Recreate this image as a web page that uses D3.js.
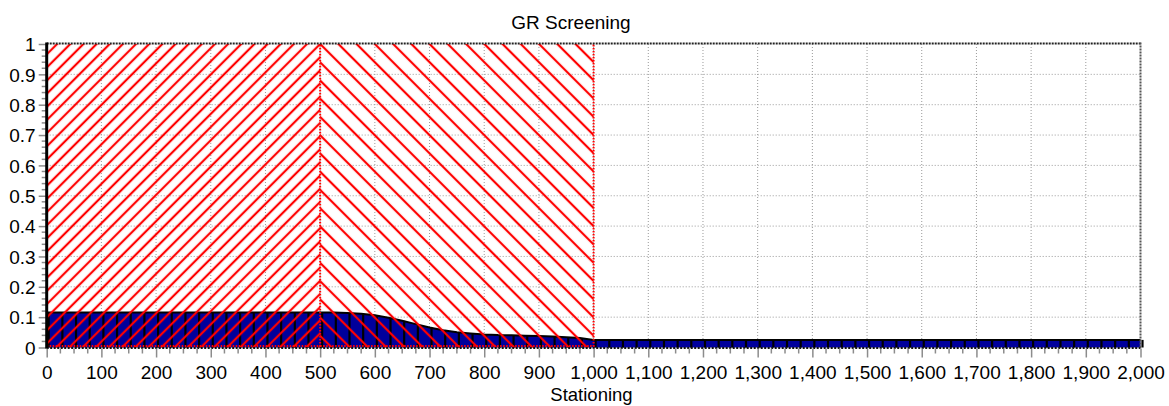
<!DOCTYPE html>
<html>
<head>
<meta charset="utf-8">
<script src="https://cdn.jsdelivr.net/npm/d3@7/dist/d3.min.js"></script>
<style>
  html, body { margin: 0; padding: 0; background: #fff; }
  svg { display: block; font-family: "Liberation Sans", Arial, Helvetica, sans-serif; }
</style>
</head>
<body>
<svg id="chart" width="1169" height="406"></svg>
<script>
// ############################################################################
// GR Screening                                                         Chart
// ############################################################################

// ============================================================================
// Data
// ============================================================================

// stations of the GR profile (m)
const stations = [
     0,   25,   50,   75,  100,  125,  150,  175,  200,  225,
   250,  275,  300,  325,  350,  375,  400,  425,  450,  475,
   500,  525,  550,  575,  600,  625,  650,  675,  700,  725,
   750,  775,  800,  825,  850,  875,  900,  925,  950,  975,
  1000, 1025, 1050, 1075, 1100, 1125, 1150, 1175, 1200, 1225,
  1250, 1275, 1300, 1325, 1350, 1375, 1400, 1425, 1450, 1475,
  1500, 1525, 1550, 1575, 1600, 1625, 1650, 1675, 1700, 1725,
  1750, 1775, 1800, 1825, 1850, 1875, 1900, 1925, 1950, 1975,
  2000
]

// screening value at each station
const grValues = [
  0.115, 0.115, 0.115, 0.115, 0.115, 0.115, 0.115, 0.115, 0.115, 0.115,
  0.115, 0.115, 0.115, 0.115, 0.115, 0.115, 0.115, 0.115, 0.115, 0.115,
  0.115, 0.115, 0.114, 0.111, 0.106, 0.098, 0.088, 0.077, 0.066, 0.057,
  0.050, 0.046, 0.043, 0.041, 0.040, 0.039, 0.038, 0.036, 0.034, 0.031,
  0.025, 0.025, 0.025, 0.025, 0.025, 0.025, 0.025, 0.025, 0.025, 0.025,
  0.025, 0.025, 0.025, 0.025, 0.025, 0.025, 0.025, 0.025, 0.025, 0.025,
  0.025, 0.025, 0.025, 0.025, 0.025, 0.025, 0.025, 0.025, 0.025, 0.025,
  0.025, 0.025, 0.025, 0.025, 0.025, 0.025, 0.025, 0.025, 0.025, 0.025,
  0.025
]

// hatched screening zones
const zoneStarts = [0, 500]
const zoneEnds   = [500, 1000]
const zoneTops   = [1, 1]
const zoneHatch  = ["fwd", "back"]

// tick labels
const xTicks = [0, 100, 200, 300, 400, 500, 600, 700, 800, 900, 1000,
                1100, 1200, 1300, 1400, 1500, 1600, 1700, 1800, 1900, 2000]
const yTicks = [0, 0.1, 0.2, 0.3, 0.4, 0.5, 0.6, 0.7, 0.8, 0.9, 1]


// ============================================================================
// Layout
// ============================================================================

const svg = d3.select("#chart")

const plot = { left: 46.7, right: 1140.5, top: 44, bottom: 347.5 }

const x = d3.scaleLinear().domain([0, 2000]).range([plot.left, plot.right])
const y = d3.scaleLinear().domain([0, 1]).range([plot.bottom, plot.top])

const red  = "#ff0000"
const navy = "#00009c"
const grey = "#8c8c8c"


// ============================================================================
// Hatch patterns
// ============================================================================

const defs = svg.append("defs")
const hatchAngle   = { fwd: 45, back: -45 }
const hatchSpacing = { fwd: 9.3, back: 12.9 }

zoneHatch.forEach((h, i) => {
  let w = hatchSpacing[h]
  let p = defs.append("pattern")
    .attr("id", "hatch-" + i)
    .attr("patternUnits", "userSpaceOnUse")
    .attr("width", w)
    .attr("height", 10)
    .attr("patternTransform",
      "translate(" + x(500) + "," + y(1) + ") rotate(" + hatchAngle[h] + ")")

  // line on both tile edges so the stroke is not clipped in half
  p.selectAll("line")
    .data([0, w])
    .join("line")
      .attr("x1", d => d).attr("y1", -1)
      .attr("x2", d => d).attr("y2", 11)
      .attr("stroke", red)
      .attr("stroke-width", 2.2)
})


// ============================================================================
// Grid
// ============================================================================

const grid = svg.append("g").attr("class", "grid")
  .attr("stroke", "#9a9a9a")
  .attr("stroke-width", 1)
  .attr("stroke-dasharray", "1,2")

grid.selectAll(".gx")
  .data(xTicks.filter(d => d > 0 && d < 2000))
  .join("line")
    .attr("x1", d => x(d)).attr("x2", d => x(d))
    .attr("y1", plot.top).attr("y2", plot.bottom)

grid.selectAll(".gy")
  .data(yTicks.filter(d => d > 0 && d < 1))
  .join("line")
    .attr("x1", plot.left).attr("x2", plot.right)
    .attr("y1", d => y(d)).attr("y2", d => y(d))


// ============================================================================
// GR profile (filled bars with black outlines)
// ============================================================================

const profile = stations.map((s, i) => ({ s: s, v: grValues[i] }))

svg.append("path")
  .datum(profile)
  .attr("fill", navy)
  .attr("d", d3.area()
    .x(d => x(d.s))
    .y0(y(0))
    .y1(d => y(d.v)))

svg.append("g")
  .attr("stroke", "#000")
  .attr("stroke-width", 2.2)
  .selectAll("line")
  .data(profile)
  .join("line")
    .attr("x1", d => x(d.s) + 2).attr("x2", d => x(d.s) + 2)
    .attr("y1", y(0)).attr("y2", d => y(d.v))

svg.append("path")
  .datum(profile)
  .attr("fill", "none")
  .attr("stroke", "#000")
  .attr("stroke-width", 2)
  .attr("d", d3.line()
    .x(d => x(d.s))
    .y(d => y(d.v)))


// ============================================================================
// Hatched zones
// ============================================================================

const zones = zoneStarts.map((s, i) => ({ s: s, e: zoneEnds[i], t: zoneTops[i], i: i }))

svg.append("g").selectAll("rect")
  .data(zones)
  .join("rect")
    .attr("x", d => x(d.s))
    .attr("y", d => y(d.t))
    .attr("width", d => x(d.e) - x(d.s))
    .attr("height", d => y(0) - y(d.t))
    .attr("fill", d => "url(#hatch-" + d.i + ")")

// dotted zone borders
const zoneBorders = svg.append("g")
  .attr("stroke", red)
  .attr("stroke-width", 2)
  .attr("stroke-dasharray", "1.5,1.5")
  .attr("fill", "none")

zoneBorders.selectAll(".zb")
  .data(zones)
  .join("path")
    .attr("d", d => "M" + x(d.s) + "," + (y(0) - 1.5)
      + "H" + x(d.e)
      + "V" + y(d.t))


// ============================================================================
// Frame
// ============================================================================

// top border
svg.append("line")
  .attr("x1", plot.left).attr("x2", plot.right)
  .attr("y1", plot.top - 0.5).attr("y2", plot.top - 0.5)
  .attr("stroke", "#222").attr("stroke-width", 2)
  .attr("stroke-dasharray", "2,1")

// right border
svg.append("line")
  .attr("x1", plot.right).attr("x2", plot.right)
  .attr("y1", plot.top - 1.5).attr("y2", plot.bottom)
  .attr("stroke", "#555").attr("stroke-width", 2)
  .attr("stroke-dasharray", "2,1")

// bottom axis line
svg.append("line")
  .attr("x1", plot.left).attr("x2", plot.right)
  .attr("y1", plot.bottom + 0.5).attr("y2", plot.bottom + 0.5)
  .attr("stroke", "#111").attr("stroke-width", 2)
  .attr("stroke-dasharray", "2,1.5")


// ============================================================================
// Axes
// ============================================================================

const xMinor = stations.filter(d => d % 100 !== 0)
const yMinor = d3.range(1, 50).map(d => d / 50).filter(d => Math.round(d * 50) % 5 !== 0)

const xAxis = svg.append("g")
  .attr("transform", "translate(0," + (plot.bottom + 1) + ")")
  .call(d3.axisBottom(x)
    .tickValues(xTicks)
    .tickFormat(d3.format(","))
    .tickSize(9)
    .tickPadding(8))

xAxis.append("g").selectAll("line")
  .data(xMinor)
  .join("line")
    .attr("x1", d => x(d)).attr("x2", d => x(d))
    .attr("y1", 0).attr("y2", 5)
    .attr("stroke", grey).attr("stroke-width", 1.5)

const yAxis = svg.append("g")
  .attr("transform", "translate(" + plot.left + ",0)")
  .call(d3.axisLeft(y)
    .tickValues(yTicks)
    .tickFormat(d3.format("~g"))
    .tickSize(8)
    .tickPadding(3))

yAxis.append("g").selectAll("line")
  .data(yMinor)
  .join("line")
    .attr("x1", -5).attr("x2", 0)
    .attr("y1", d => y(d)).attr("y2", d => y(d))
    .attr("stroke", grey).attr("stroke-width", 1.5)

svg.selectAll(".domain").remove()
svg.selectAll(".tick line").attr("stroke", grey).attr("stroke-width", 1.5)
svg.selectAll(".tick text")
  .attr("fill", "#000")
  .style("font-size", "19px")
  .style("font-family", "'Liberation Sans', Arial, sans-serif")

yAxis.selectAll(".tick text").attr("dy", "0.36em")

// thick left axis
svg.append("line")
  .attr("x1", plot.left).attr("x2", plot.left)
  .attr("y1", plot.top - 1.5).attr("y2", plot.bottom + 1)
  .attr("stroke", "#000").attr("stroke-width", 3)


// ============================================================================
// Titles
// ============================================================================

svg.append("text")
  .attr("x", 571)
  .attr("y", 29)
  .attr("text-anchor", "middle")
  .style("font-size", "19px")
  .text("GR Screening")

svg.append("text")
  .attr("x", 591.5)
  .attr("y", 401)
  .attr("text-anchor", "middle")
  .style("font-size", "18.5px")
  .text("Stationing")
</script>
</body>
</html>
